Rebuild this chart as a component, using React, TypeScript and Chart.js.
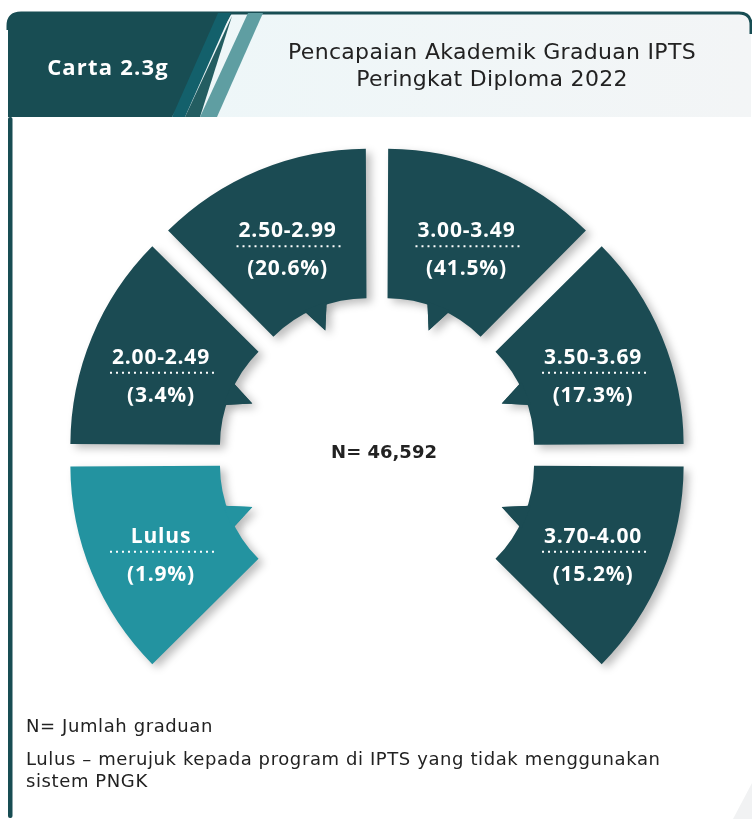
import React, { useEffect, useRef } from "react";
import { Chart, registerables } from "chart.js";

Chart.register(...registerables);

// ---- data ----
const categories = ["Lulus", "2.00-2.49", "2.50-2.99", "3.00-3.49", "3.50-3.69", "3.70-4.00"];
const percentages = [1.9, 3.4, 20.6, 41.5, 17.3, 15.2];
// the infographic draws every band with the same angle
const segmentWeights = [1, 1, 1, 1, 1, 1];
const segmentColors = ["#2393a0", "#1b4b53", "#1b4b53", "#1b4b53", "#1b4b53", "#1b4b53"];
const totalLabel = "N= 46,592";
const chartCode = "Carta 2.3g";
const titleLines = ["Pencapaian Akademik Graduan IPTS", "Peringkat Diploma 2022"];
const notes = [
  "N= Jumlah graduan",
  "Lulus \u2013 merujuk kepada program di IPTS yang tidak menggunakan sistem PNGK",
];

const SEG_OFFSET = 104; // arc offset option (Chart.js translates arcs by offset/4)
const OUTER_R = 275;
const CUTOUT = "45.6%";

function geom(el: any) {
  const p = el.getProps(["x", "y", "startAngle", "endAngle", "innerRadius", "outerRadius"]);
  const mid = (p.startAngle + p.endAngle) / 2;
  const t = SEG_OFFSET / 4;
  const fix = 1 - Math.sin(Math.min(Math.PI, p.endAngle - p.startAngle));
  const ro = t * fix;
  return {
    cx: p.x + Math.cos(mid) * t,
    cy: p.y + Math.sin(mid) * t,
    mid,
    rin: p.innerRadius + ro,
    rout: p.outerRadius + ro,
  };
}

function drawTeeth(chart: any) {
  const ctx = chart.ctx as CanvasRenderingContext2D;
  const meta = chart.getDatasetMeta(0);
  meta.data.forEach((el: any, i: number) => {
    const g = geom(el);
    const half = (5.2 * Math.PI) / 180;
    const rb = g.rin + 3;
    const ra = g.rin - 24;
    ctx.fillStyle = segmentColors[i];
    ctx.beginPath();
    ctx.moveTo(g.cx + Math.cos(g.mid - half) * rb, g.cy + Math.sin(g.mid - half) * rb);
    ctx.lineTo(g.cx + Math.cos(g.mid) * ra, g.cy + Math.sin(g.mid) * ra);
    ctx.lineTo(g.cx + Math.cos(g.mid + half) * rb, g.cy + Math.sin(g.mid + half) * rb);
    ctx.closePath();
    ctx.fill();
  });
}

const decorPlugin = {
  id: "decor",
  beforeDatasetsDraw(chart: any) {
    const ctx = chart.ctx as CanvasRenderingContext2D;
    ctx.save();
    ctx.shadowColor = "rgba(0,0,0,0.26)";
    ctx.shadowBlur = 9;
    ctx.shadowOffsetX = 5;
    ctx.shadowOffsetY = 4;
    drawTeeth(chart); // casts the pointer shadows into the hole
  },
  afterDatasetsDraw(chart: any) {
    const ctx = chart.ctx as CanvasRenderingContext2D;
    ctx.restore();
    ctx.save();
    drawTeeth(chart); // repaint pointers above the band shadows
    const meta = chart.getDatasetMeta(0);
    meta.data.forEach((el: any, i: number) => {
      const g = geom(el);
      const rm = (g.rin + g.rout) / 2;
      const lx = g.cx + Math.cos(g.mid) * rm;
      const ly = g.cy + Math.sin(g.mid) * rm;
      ctx.fillStyle = "#ffffff";
      ctx.font = 'bold 21px "Open Sans", sans-serif';
      (ctx as any).letterSpacing = "0.8px";
      ctx.textAlign = "center";
      ctx.textBaseline = "middle";
      ctx.fillText(categories[i], lx, ly - 8);
      ctx.strokeStyle = "#ffffff";
      ctx.lineWidth = 2;
      ctx.setLineDash([2, 4]);
      ctx.beginPath();
      ctx.moveTo(lx - 51, ly + 7);
      ctx.lineTo(lx + 53, ly + 7);
      ctx.stroke();
      ctx.setLineDash([]);
      ctx.fillText(`(${percentages[i]}%)`, lx, ly + 30);
    });
    ctx.restore();
  },
};

function DoughnutCanvas() {
  const ref = useRef<HTMLCanvasElement | null>(null);
  useEffect(() => {
    if (!ref.current) return;
    const chart = new Chart(ref.current, {
      type: "doughnut",
      data: {
        labels: categories,
        datasets: [
          {
            data: segmentWeights,
            backgroundColor: segmentColors,
            borderWidth: 0,
            offset: SEG_OFFSET,
            hoverOffset: SEG_OFFSET,
          },
        ],
      },
      options: {
        responsive: false,
        maintainAspectRatio: false,
        animation: false,
        rotation: -135,
        circumference: 270,
        radius: OUTER_R,
        cutout: CUTOUT,
        layout: { padding: { top: 11, left: 2, right: 0, bottom: 0 } },
        plugins: {
          legend: { display: false },
          tooltip: {
            callbacks: {
              label: (c: any) => `${categories[c.dataIndex]}: ${percentages[c.dataIndex]}%`,
            },
          },
        },
      },
      plugins: [decorPlugin],
    } as any);
    return () => chart.destroy();
  }, []);
  return (
    <canvas
      ref={ref}
      width={752}
      height={819}
      style={{ position: "absolute", left: 0, top: 0, width: 752, height: 819 }}
    />
  );
}

export default function App() {
  const dark = "#184d53";
  const textFont = '"DejaVu Sans", sans-serif';
  return (
    <div
      style={{
        position: "absolute",
        left: 0,
        top: 0,
        width: 752,
        height: 819,
        overflow: "hidden",
        background: "#ffffff",
        fontFamily: textFont,
      }}
    >
      <svg width={752} height={819} style={{ position: "absolute", left: 0, top: 0 }}>
        <defs>
          <linearGradient id="hdr" x1="0" y1="0" x2="1" y2="0">
            <stop offset="0" stopColor="#ecf7f9" />
            <stop offset="1" stopColor="#f3f5f6" />
          </linearGradient>
        </defs>
        <path d="M8 117 V26 Q8 13 21 13 H739 Q751 13 751 25 V117 Z" fill="url(#hdr)" />
        <path d="M8 30 V26 Q8 13 21 13 H739 Q751 13 751 25 V34" fill="none" stroke={dark} strokeWidth={3} />
        <path d="M8 117 V26 Q8 13 21 13 H232 L172 117 Z" fill={dark} />
        <polygon points="218,13 231,13 185,117 172,117" fill="#13606b" />
        <polygon points="185,117 200,117 232,16" fill="#235d61" />
        <polygon points="248,13 263,13 217,117 200,117" fill="#5f9ea2" />
        <rect x={8} y={117} width={4.5} height={701} rx={2} fill={dark} />
        <polygon points="733,819 752,819 752,783" fill="#f1f2f3" />
      </svg>

      <DoughnutCanvas />

      <div
        style={{
          position: "absolute",
          left: 20,
          width: 176,
          top: 50,
          textAlign: "center",
          color: "#ffffff",
          fontFamily: '"Open Sans", sans-serif',
          fontWeight: 700,
          fontSize: 22,
          letterSpacing: 1.2,
          lineHeight: "32px",
        }}
      >
        {chartCode}
      </div>
      <div
        style={{
          position: "absolute",
          left: 242,
          width: 500,
          top: 38,
          textAlign: "center",
          color: "#222222",
          fontSize: 22,
          letterSpacing: 0.3,
          lineHeight: "27px",
        }}
      >
        {titleLines.map((l) => (
          <div key={l}>{l}</div>
        ))}
      </div>

      <div
        style={{
          position: "absolute",
          left: 284,
          width: 200,
          top: 439,
          textAlign: "center",
          color: "#222222",
          fontFamily: '"DejaVu Sans", sans-serif',
          fontWeight: 700,
          fontSize: 18,
          lineHeight: "26px",
        }}
      >
        {totalLabel}
      </div>

      <div
        style={{
          position: "absolute",
          left: 26,
          top: 715,
          width: 662,
          color: "#222222",
          fontSize: 18,
          letterSpacing: 0.6,
          lineHeight: "22px",
        }}
      >
        <div style={{ marginBottom: 11 }}>{notes[0]}</div>
        <div>{notes[1]}</div>
      </div>
    </div>
  );
}
